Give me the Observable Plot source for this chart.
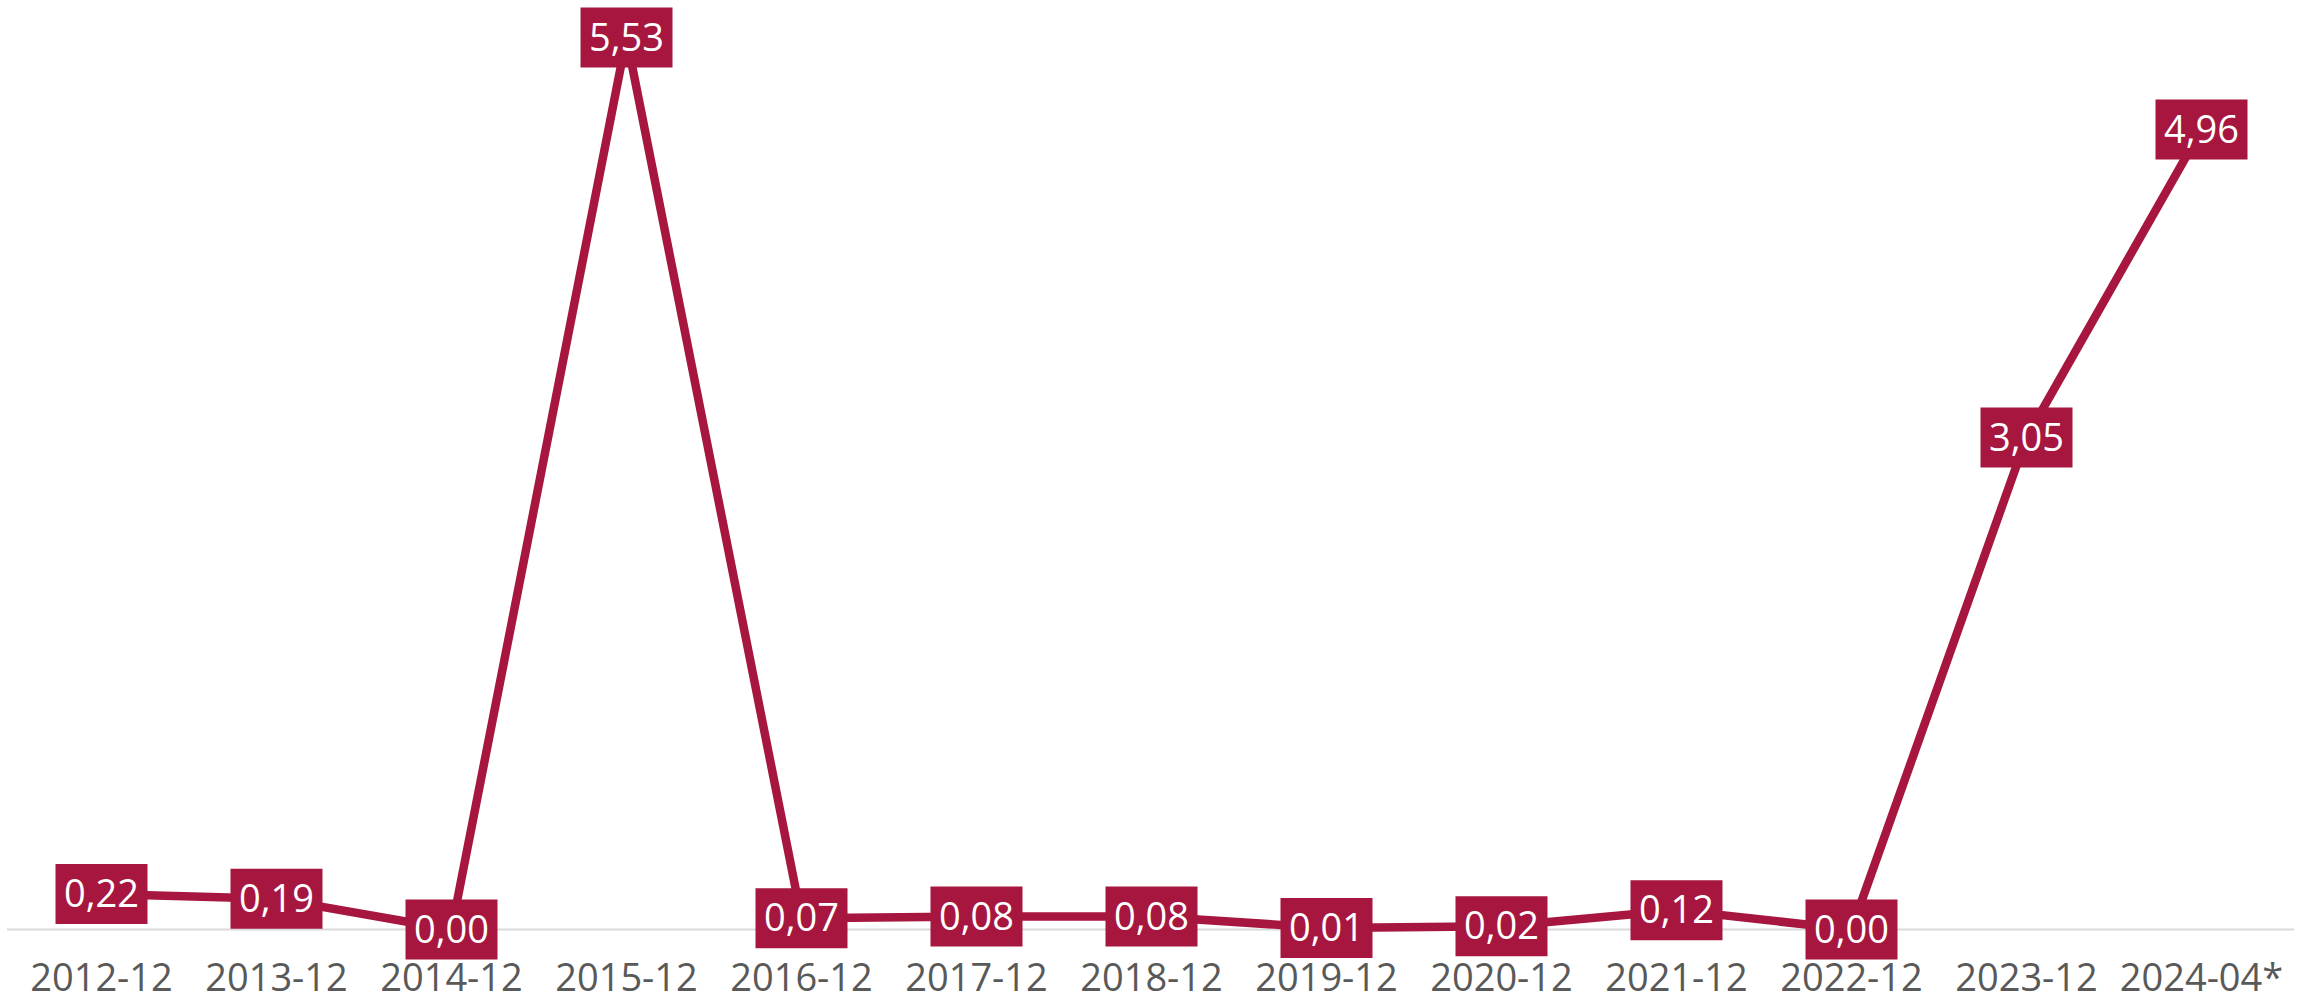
<!DOCTYPE html>
<html>
<head>
<meta charset="utf-8">
<script src="https://cdn.jsdelivr.net/npm/d3@7"></script>
<script src="https://cdn.jsdelivr.net/npm/@observablehq/plot@0.6"></script>
<style>
  html, body { margin: 0; padding: 0; background: #ffffff; }
  #chart svg { display: block; }
</style>
</head>
<body>
<div id="chart"></div>
<script>
const categories = ["2012-12","2013-12","2014-12","2015-12","2016-12","2017-12","2018-12","2019-12","2020-12","2021-12","2022-12","2023-12","2024-04*"];
const values = [0.22, 0.19, 0.00, 5.53, 0.07, 0.08, 0.08, 0.01, 0.02, 0.12, 0.00, 3.05, 4.96];

const data = categories.map((c, i) => ({cat: c, value: values[i]}));
const fmt = v => v.toFixed(2).replace(".", ",");
const color = "#A6163F";

const boxSymbol = {
  draw(context, size) {
    context.rect(-46, -30, 92, 60);
  }
};

const chart = Plot.plot({
  width: 2313,
  height: 1003,
  marginLeft: 7,
  marginRight: 19,
  marginTop: 0,
  marginBottom: 74,
  style: {fontFamily: "'Open Sans', sans-serif", background: "#ffffff"},
  x: {type: "point", domain: categories, padding: 0.5, label: null},
  y: {domain: [0, 5.76], axis: null},
  marks: [
    Plot.ruleY([0], {stroke: "#d9d9d9", strokeWidth: 2}),
    Plot.axisX({tickSize: 0, tickPadding: 35, fontSize: 38, fill: "#595959", label: null}),
    Plot.line(data, {x: "cat", y: "value", stroke: color, strokeWidth: 8.5, strokeLinejoin: "miter"}),
    Plot.dot(data, {x: "cat", y: "value", symbol: boxSymbol, fill: color, stroke: "none", r: 10}),
    Plot.text(data, {x: "cat", y: "value", text: d => fmt(d.value), fill: "#ffffff", fontSize: 38, dy: 1})
  ]
});
document.getElementById("chart").appendChild(chart);
</script>
</body>
</html>
